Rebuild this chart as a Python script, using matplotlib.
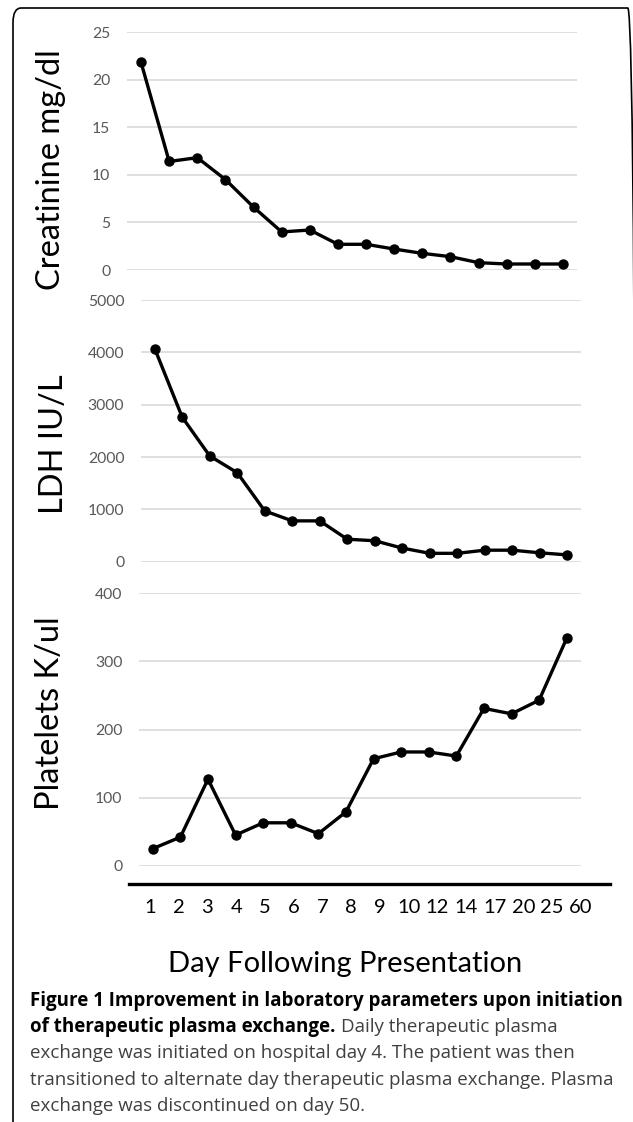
import matplotlib
matplotlib.use("Agg")
import matplotlib.pyplot as plt
from matplotlib.patches import FancyBboxPatch

plt.rcParams['font.family'] = ['Lato', 'DejaVu Sans']

days = ["1", "2", "3", "4", "5", "6", "7", "8", "9", "10", "12", "14", "17", "20", "25", "60"]
creatinine = [21.8, 11.4, 11.8, 9.5, 6.6, 4.0, 4.2, 2.7, 2.7, 2.2, 1.75, 1.4, 0.77, 0.63, 0.63, 0.63]
ldh = [4070, 2760, 2020, 1700, 970, 780, 780, 430, 400, 260, 160, 160, 220, 220, 170, 130]
platelets = [25, 42, 127, 45, 63, 63, 47, 79, 157, 167, 167, 161, 231, 223, 243, 334]

cre_ticks = [0, 5, 10, 15, 20, 25]
ldh_ticks = [0, 1000, 2000, 3000, 4000, 5000]
plt_ticks = [0, 100, 200, 300, 400]

W, H = 633, 1122
fig = plt.figure(figsize=(W / 100, H / 100), dpi=100)


def ax_px(x0, x1, ytop, ybot):
    return fig.add_axes([x0 / W, 1 - ybot / H, (x1 - x0) / W, (ybot - ytop) / H])


# border box (rounded, running off the right/bottom of the image)
box = FancyBboxPatch((13 / W, -0.05), (636 - 13) / W, (1 - 8 / H) + 0.05,
                     boxstyle="round,pad=0,rounding_size=0.013",
                     transform=fig.transFigure, fill=False, ec="black", lw=1.2,
                     clip_on=False)
fig.patches.append(box)

panels = [
    (creatinine, cre_ticks, "Creatinine mg/dl", (127, 577, 32, 270), 66, 0.42),
    (ldh, ldh_ticks, "LDH IU/L", (141, 581, 300, 561.7), 69, 0.45),
    (platelets, plt_ticks, "Platelets K/ul", (139, 580.5, 593.3, 865.7), 65, 0.56),
]

xs = list(range(len(days)))
for vals, ticks, label, (x0, x1, yt, yb), lx, ly in panels:
    ax = ax_px(x0, x1, yt, yb)
    ax.set_xlim(-0.5, len(days) - 0.5)
    ax.set_ylim(ticks[0], ticks[-1])
    ax.set_yticks(ticks)
    ax.set_yticklabels([str(t) for t in ticks])
    ax.tick_params(axis='y', length=0, pad=12, labelsize=11.3, labelcolor="#595959")
    ax.set_xticks([])
    for s in ax.spines.values():
        s.set_visible(False)
    ax.grid(axis='y', color="#d9d9d9", lw=1.2)
    ax.set_axisbelow(True)
    ax.plot(xs, vals, color="black", lw=2.4, marker="o", ms=6.5, clip_on=False, zorder=3)
    ax.set_ylabel(label, fontsize=23.5, color="black")
    ax.yaxis.set_label_coords((lx - x0) / (x1 - x0), ly)
    ax.patch.set_alpha(0)

# bottom category axis
axb = ax_px(129, 610, 870, 884)
axb.set_xlim(-0.73, 16.01)
axb.set_ylim(0, 1)
axb.set_yticks([])
axb.set_xticks(xs)
axb.set_xticklabels(days)
axb.tick_params(axis='x', length=0, pad=11, labelsize=14.5, labelcolor="black")
for k in ["top", "left", "right"]:
    axb.spines[k].set_visible(False)
axb.spines["bottom"].set_linewidth(2.4)
axb.patch.set_alpha(0)
axb.set_xlabel("Day Following Presentation", fontsize=21, color="black", labelpad=0)
axb.xaxis.set_label_coords((345 - 129) / (610 - 129), -4.8)

# caption
cap_font = ['Open Sans', 'DejaVu Sans']
cap_x = 30 / W
fs = 13.5
gray = "#404040"
t1 = fig.text(cap_x, 1 - 1001 / H, "Figure 1 Improvement in laboratory parameters upon initiation",
              fontsize=fs, fontweight="bold", va="center", ha="left", color="black",
              family=cap_font)
t2 = fig.text(cap_x, 1 - 1027 / H, "of therapeutic plasma exchange.",
              fontsize=fs, fontweight="bold", va="center", ha="left", color="black",
              family=cap_font)
fig.canvas.draw()
bb = t2.get_window_extent()
fig.text(bb.x1 / W + 5 / W, 1 - 1027 / H, "Daily therapeutic plasma",
         fontsize=fs, va="center", ha="left", color=gray, family=cap_font)
fig.text(cap_x, 1 - 1053 / H, "exchange was initiated on hospital day 4. The patient was then",
         fontsize=fs, va="center", ha="left", color=gray, family=cap_font)
fig.text(cap_x, 1 - 1080 / H, "transitioned to alternate day therapeutic plasma exchange. Plasma",
         fontsize=fs, va="center", ha="left", color=gray, family=cap_font)
fig.text(cap_x, 1 - 1106 / H, "exchange was discontinued on day 50.",
         fontsize=fs, va="center", ha="left", color=gray, family=cap_font)

fig.savefig("out.png", dpi=100)
